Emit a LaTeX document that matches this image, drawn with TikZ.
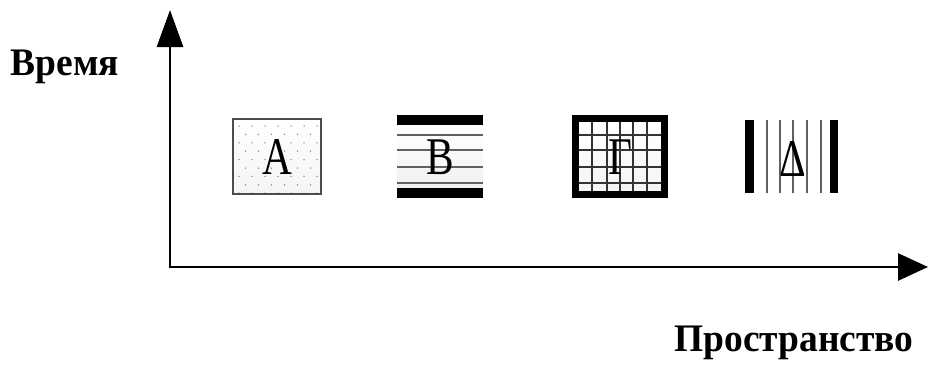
\documentclass[tikz,border=0pt]{standalone}
\usepackage{fontspec}
\setmainfont{Liberation Serif}
\usetikzlibrary{arrows.meta}
\begin{document}
\begin{tikzpicture}[x=1pt,y=-1pt,
  axis/.style={line width=2.8pt},
  biglabel/.style={font=\fontsize{39}{40}\selectfont\bfseries, inner sep=0pt, xscale=0.96},
  letter/.style={font=\fontsize{53}{55}\selectfont, inner sep=0pt, xscale=0.78},
  thinline/.style={draw=gray!75!black, line width=1.2pt},
  thickbar/.style={fill=black},
  gridline/.style={draw=black!80, line width=1.4pt}]
\useasboundingbox (0,0) rectangle (930,367);
% axes
\coordinate (O) at (170,267);
\coordinate (ytop) at (170,10);
\coordinate (xend) at (928,267);
\draw[axis,-{Triangle[length=37pt,width=26pt]}] ([yshift=-1.4pt]O) -- (ytop);
\draw[axis,-{Triangle[length=30pt,width=27pt]}] ([xshift=-1.4pt]O) -- (xend);
\node[biglabel] (time) at (65,67) {Время};
\node[biglabel] (space) at (794,343) {Пространство};
% Box A
\shade[top color=white, bottom color=blue!4!gray!8] (233,119) rectangle (321,194);
\foreach \r in {0,...,8}{
  \pgfmathsetmacro{\yy}{126+\r*8.4}
  \pgfmathsetmacro{\off}{mod(\r,2)*6.5}
  \foreach \c in {0,...,6}{
    \pgfmathsetmacro{\xx}{239+\off+\c*13}
    \ifdim \xx pt<318pt \fill[gray] (\xx,\yy) circle (0.75pt);\fi
  }
}
\draw[draw=gray!60!black, line width=1.3pt] (233,119) rectangle (321,194);
\node[letter] (A) at (277,157) {А};
% Box B
\shade[top color=white, bottom color=gray!12] (397,125) rectangle (483,188);
\fill[thickbar] (397,115) rectangle (483,125);
\fill[thickbar] (397,188) rectangle (483,198);
\foreach \yy in {135,150,167,183} \draw[thinline] (397,\yy) -- (483,\yy);
\node[letter] (B) at (440,157) {В};
% Box Gamma
\shade[top color=white, bottom color=blue!4!gray!8] (579,122) rectangle (661,191);
\foreach \xx in {592,607,620,633,647} \draw[gridline] (\xx,122) -- (\xx,191);
\foreach \yy in {135,150,167,183} \draw[gridline] (579,\yy) -- (661,\yy);
\draw[line width=7pt] (575.5,118.5) rectangle (664.5,194.5);
\node[letter] (G) at (620,157) {Г};
% Box Delta
\fill[thickbar] (745,120) rectangle (754,193);
\fill[thickbar] (830,120) rectangle (838,193);
\foreach \xx in {767,780,793,807,821} \draw[thinline] (\xx,120) -- (\xx,193);
\node[letter] (D) at (793,159) {Δ};
\end{tikzpicture}
\end{document}
